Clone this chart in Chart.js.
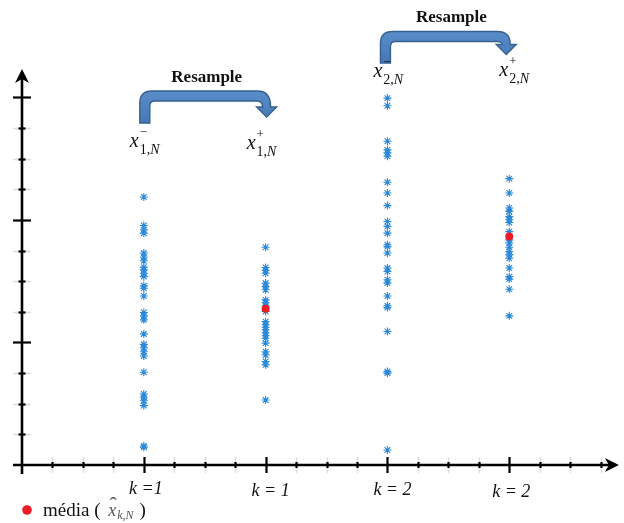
<!DOCTYPE html>
<html>
<head>
<meta charset="utf-8">
<script src="https://cdn.jsdelivr.net/npm/chart.js@4/dist/chart.umd.min.js"></script>
<style>
  html, body { margin: 0; padding: 0; background: #fff; }
  canvas { display: block; }
</style>
</head>
<body>
<canvas id="c" width="624" height="523"></canvas>
<script>
// Column positions on the horizontal axis (one unit per tick)
const columnPositions = [4, 8, 12, 16];
const tickLabels = ['k =1', 'k = 1', 'k = 2', 'k = 2'];

// Particle clouds before (−) and after (+) resampling
const particles1Minus = [8.75, 7.82, 7.68, 7.57, 6.92, 6.79, 6.67, 6.46, 6.37, 6.26, 6.15, 5.85, 5.77, 5.52,
  4.98, 4.87, 4.74, 4.28, 3.94, 3.83, 3.70, 3.56, 3.03, 2.32, 2.21, 2.10, 1.94, 0.62, 0.58];
const particles1Plus = [7.11, 6.45, 6.35, 6.26, 5.94, 5.83, 5.72, 5.39, 5.30, 5.20, 5.01, 4.68, 4.58, 4.50,
  4.41, 4.32, 4.22, 4.14, 3.98, 3.70, 3.59, 3.38, 3.27, 2.12];
const particles2Minus = [11.98, 11.73, 10.57, 10.29, 10.19, 10.08, 9.23, 8.88, 8.47, 7.95, 7.79, 7.57, 7.19,
  7.13, 6.92, 6.43, 6.32, 6.05, 5.94, 5.52, 5.20, 5.14, 4.36, 3.05, 3.00, 0.49];
const particles2Plus = [9.35, 8.88, 8.39, 8.28, 8.11, 8.01, 7.92, 7.62, 7.35, 7.25, 7.11, 6.97, 6.86, 6.75,
  6.43, 6.15, 6.07, 5.74, 4.87];

// Sample mean of each column (only shown after resampling)
const meanValues = [null, 5.10, null, 7.46];

// State labels x^{sign}_{index,N}
const stateSigns = ['\u2212', '+', '\u2212', '+'];
const stateIndex = ['1', '1', '2', '2'];
const arrowTitle = 'Resample';
const legendText = 'média';

const columns = [particles1Minus, particles1Plus, particles2Minus, particles2Plus];
const particlePoints = columns.flatMap((vals, i) => vals.map(v => ({ x: columnPositions[i], y: v })));
const meanPoints = meanValues
  .map((v, i) => (v == null ? null : { x: columnPositions[i], y: v }))
  .filter(Boolean);

const SERIF = '"Liberation Serif", "Times New Roman", serif';
const INK = '#111';

function drawBentArrow(ctx, xs, xe, yTop, yBottom, depth) {
  const t = 10;            // band thickness
  const h = t / 2;
  const baseY = yTop + depth - 10;
  ctx.beginPath();
  ctx.moveTo(xs - h, yBottom);
  ctx.lineTo(xs - h, yTop + 12);
  ctx.quadraticCurveTo(xs - h, yTop, xs + 7, yTop);
  ctx.lineTo(xe - 9, yTop);
  ctx.quadraticCurveTo(xe + 4, yTop, xe + 4, baseY);
  ctx.lineTo(xe + 10, baseY);
  ctx.lineTo(xe, yTop + depth);
  ctx.lineTo(xe - 10, baseY);
  ctx.lineTo(xe - 4, baseY);
  ctx.quadraticCurveTo(xe - 4, yTop + t, xe - 10, yTop + t);
  ctx.lineTo(xs + 10, yTop + t);
  ctx.quadraticCurveTo(xs + h, yTop + t, xs + h, yTop + t + 5);
  ctx.lineTo(xs + h, yBottom);
  ctx.closePath();
  const g = ctx.createLinearGradient(0, yTop, 0, yBottom);
  g.addColorStop(0, '#5a8cca');
  g.addColorStop(1, '#4677b6');
  ctx.fillStyle = g;
  ctx.fill();
  ctx.strokeStyle = '#36618f';
  ctx.lineWidth = 1.4;
  ctx.stroke();
}

function drawState(ctx, left, base, sign, idx) {
  ctx.fillStyle = INK;
  ctx.textBaseline = 'alphabetic';
  ctx.textAlign = 'left';
  ctx.font = 'italic 20px ' + SERIF;
  ctx.fillText('x', left, base);
  const sx = left + ctx.measureText('x').width + 1;
  ctx.font = '13px ' + SERIF;
  ctx.textBaseline = 'middle';
  ctx.fillText(sign, sx, base - 14);
  ctx.textBaseline = 'alphabetic';
  ctx.font = '14px ' + SERIF;
  const sub = idx + ',';
  ctx.fillText(sub, sx, base + 7);
  const nx = sx + ctx.measureText(sub).width;
  ctx.font = 'italic 14px ' + SERIF;
  ctx.fillText('N', nx, base + 7);
}

const axesPlugin = {
  id: 'arrowAxes',
  beforeDatasetsDraw(chart) {
    const { ctx, scales: { x, y } } = chart;
    const x0 = x.getPixelForValue(0), y0 = y.getPixelForValue(0);
    const xEnd = x.getPixelForValue(x.max), yEnd = y.getPixelForValue(y.max);
    ctx.save();
    ctx.lineCap = 'butt';

    // tick marks on the vertical axis
    for (let i = 1; i <= 12; i++) {
      const py = Math.round(y.getPixelForValue(i)) + 0.5;
      if (i % 4 === 0) {
        ctx.strokeStyle = '#000'; ctx.lineWidth = 2.2;
        ctx.beginPath(); ctx.moveTo(x0 - 9, py); ctx.lineTo(x0 + 9, py); ctx.stroke();
      } else {
        ctx.strokeStyle = '#dcdcdc'; ctx.lineWidth = 1.5;
        ctx.beginPath(); ctx.moveTo(x0 - 9, py); ctx.lineTo(x0 + 9, py); ctx.stroke();
        ctx.strokeStyle = '#000'; ctx.lineWidth = 2.2;
        ctx.beginPath(); ctx.moveTo(x0 - 3.5, py); ctx.lineTo(x0 + 3.5, py); ctx.stroke();
      }
    }
    // tick marks on the horizontal axis
    for (let i = 1; i <= 19; i++) {
      const px = Math.round(x.getPixelForValue(i)) + 0.5;
      if (i % 4 === 0) {
        ctx.strokeStyle = '#000'; ctx.lineWidth = 2.2;
        ctx.beginPath(); ctx.moveTo(px, y0 - 8); ctx.lineTo(px, y0 + 8); ctx.stroke();
      } else {
        ctx.strokeStyle = '#dcdcdc'; ctx.lineWidth = 1.5;
        ctx.beginPath(); ctx.moveTo(px, y0 - 8); ctx.lineTo(px, y0 + 8); ctx.stroke();
        ctx.strokeStyle = '#000'; ctx.lineWidth = 2.2;
        ctx.beginPath(); ctx.moveTo(px, y0 - 3); ctx.lineTo(px, y0 + 3); ctx.stroke();
      }
    }

    // axis lines
    ctx.strokeStyle = '#000';
    ctx.lineWidth = 2.6;
    ctx.beginPath();
    ctx.moveTo(x0, y0 + 9); ctx.lineTo(x0, yEnd + 8);
    ctx.moveTo(x0 - 9, y0); ctx.lineTo(xEnd - 8, y0);
    ctx.stroke();

    // arrow heads
    ctx.fillStyle = '#000';
    ctx.beginPath();
    ctx.moveTo(x0, yEnd);
    ctx.lineTo(x0 + 7, yEnd + 14);
    ctx.lineTo(x0, yEnd + 10);
    ctx.lineTo(x0 - 7, yEnd + 14);
    ctx.closePath(); ctx.fill();
    ctx.beginPath();
    ctx.moveTo(xEnd, y0);
    ctx.lineTo(xEnd - 14, y0 - 7);
    ctx.lineTo(xEnd - 10, y0);
    ctx.lineTo(xEnd - 14, y0 + 7);
    ctx.closePath(); ctx.fill();

    // k labels under the axis
    ctx.font = 'italic 18px ' + SERIF;
    ctx.fillStyle = INK;
    ctx.textAlign = 'center';
    ctx.textBaseline = 'alphabetic';
    const labelShift = [2, 5, 5, 2];
    const labelBase = [29, 31, 30, 32];
    tickLabels.forEach((t, i) => {
      const px = x.getPixelForValue(columnPositions[i]);
      ctx.fillText(t, px + labelShift[i], y0 + labelBase[i]);
    });
    ctx.restore();
  },
  afterDraw(chart) {
    const { ctx, scales: { x } } = chart;
    const cp = columnPositions.map(v => x.getPixelForValue(v));
    ctx.save();

    // resampling arrows
    drawBentArrow(ctx, cp[0] + 1, cp[1] + 1, 91, 123, 26);
    drawBentArrow(ctx, cp[2] - 2, cp[3] - 3, 31.5, 63, 23);

    ctx.fillStyle = INK;
    ctx.font = 'bold 17px ' + SERIF;
    ctx.textAlign = 'center';
    ctx.textBaseline = 'middle';
    ctx.fillText(arrowTitle, (cp[0] + cp[1]) / 2 + 2, 78);
    ctx.fillText(arrowTitle, (cp[2] + cp[3]) / 2 + 3, 18);

    // state labels
    drawState(ctx, cp[0] - 14, 147, stateSigns[0], stateIndex[0]);
    drawState(ctx, cp[1] - 19, 149, stateSigns[1], stateIndex[1]);
    drawState(ctx, cp[2] - 14, 77, stateSigns[2], stateIndex[2]);
    drawState(ctx, cp[3] - 10, 76, stateSigns[3], stateIndex[3]);

    // legend for the mean marker
    ctx.fillStyle = '#ee1c25';
    ctx.beginPath(); ctx.arc(27, 510, 4.8, 0, Math.PI * 2); ctx.fill();
    ctx.fillStyle = INK;
    ctx.textAlign = 'left';
    ctx.textBaseline = 'alphabetic';
    ctx.font = '19px ' + SERIF;
    const lbl = legendText + ' ( ';
    ctx.fillText(lbl, 43, 516);
    let lx = 43 + ctx.measureText(lbl).width + 3;
    ctx.fillStyle = '#555';
    ctx.font = 'italic 18px ' + SERIF;
    ctx.fillText('x', lx, 516);
    const xw = ctx.measureText('x').width;
    ctx.font = '22px ' + SERIF;
    ctx.textAlign = 'center';
    ctx.fillText('\u02C6', lx + xw / 2 + 1, 512);
    ctx.textAlign = 'left';
    lx += xw + 1;
    ctx.font = 'italic 12px ' + SERIF;
    ctx.fillText('k,N', lx, 519);
    lx += ctx.measureText('k,N').width + 6;
    ctx.fillStyle = INK;
    ctx.font = '19px ' + SERIF;
    ctx.fillText(')', lx, 516);
    ctx.restore();
  }
};

new Chart(document.getElementById('c'), {
  type: 'scatter',
  data: {
    datasets: [
      {
        label: 'média',
        data: meanPoints,
        pointStyle: 'circle',
        pointRadius: 4,
        backgroundColor: '#ee1c25',
        borderColor: '#ee1c25',
        borderWidth: 0,
        order: 0
      },
      {
        label: 'partículas',
        data: particlePoints,
        pointStyle: 'star',
        pointRadius: 4,
        borderColor: '#2a88d8',
        backgroundColor: '#2a88d8',
        borderWidth: 1.1,
        order: 1
      }
    ]
  },
  options: {
    responsive: false,
    animation: false,
    events: [],
    clip: false,
    layout: { padding: { left: 22, right: 2, top: 69, bottom: 58 } },
    scales: {
      x: { type: 'linear', min: 0, max: 19.6, display: false },
      y: { type: 'linear', min: 0, max: 12.93, display: false }
    },
    plugins: { legend: { display: false }, tooltip: { enabled: false } }
  },
  plugins: [axesPlugin]
});
</script>
</body>
</html>
